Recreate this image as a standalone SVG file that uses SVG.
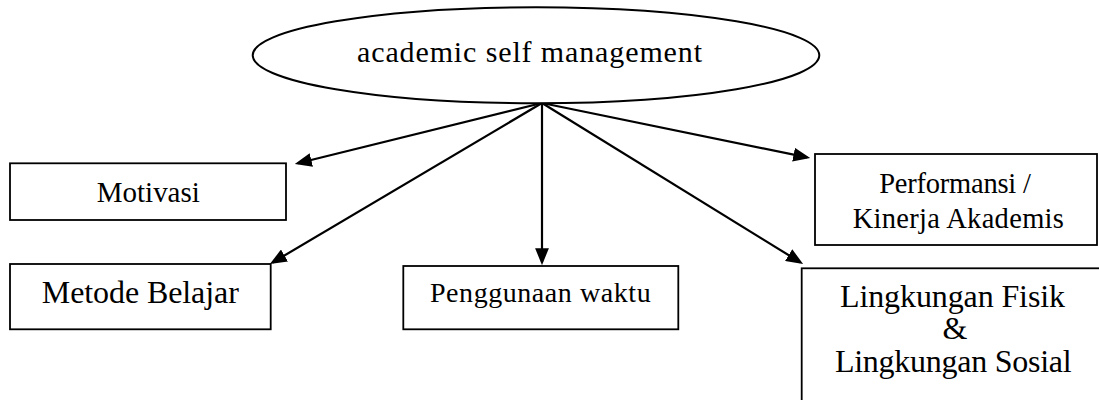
<svg xmlns="http://www.w3.org/2000/svg" width="1099" height="400" viewBox="0 0 1099 400">
<style>
  .box { fill: #ffffff; stroke: #000000; stroke-width: 1.8; }
  .t { font-family: "Liberation Serif", "Times New Roman", serif; fill: #000000; text-anchor: middle; }
  .c { stroke: #000000; stroke-width: 2.2; fill: none; marker-end: url(#ah); }
</style>
<defs>
  <marker id="ah" markerUnits="userSpaceOnUse" markerWidth="17" markerHeight="14" viewBox="0 0 16 13" refX="13" refY="6.5" orient="auto">
    <path d="M0,0 L16,6.5 L0,13 Z" fill="#000000"/>
  </marker>
</defs>
<rect width="1099" height="400" fill="#ffffff"/>

<g id="connectors">
  <line class="c" x1="542" y1="103" x2="297.9" y2="163.3"/>
  <line class="c" x1="542" y1="103" x2="272.6" y2="262.5"/>
  <line class="c" x1="542" y1="103" x2="542" y2="262"/>
  <line class="c" x1="542" y1="103" x2="807.1" y2="157.4"/>
  <line class="c" x1="542" y1="103" x2="800.4" y2="262.4"/>
</g>

<g id="root">
  <ellipse cx="536" cy="55.3" rx="283.3" ry="48" fill="#ffffff" stroke="#000000" stroke-width="2"/>
  <text class="t" x="529.5" y="62" font-size="30" textLength="345" lengthAdjust="spacing">academic self management</text>
</g>

<g id="motivasi">
  <rect class="box" x="10" y="163.3" width="276" height="56.7"/>
  <text class="t" x="148.3" y="201.7" font-size="29" textLength="103" lengthAdjust="spacing">Motivasi</text>
</g>

<g id="metode-belajar">
  <rect class="box" x="10" y="264" width="260.7" height="65.3"/>
  <text class="t" x="140.3" y="303" font-size="32" textLength="197" lengthAdjust="spacing">Metode Belajar</text>
</g>

<g id="penggunaan-waktu">
  <rect class="box" x="403.3" y="266" width="275" height="63.3"/>
  <text class="t" x="540.3" y="301.7" font-size="28" textLength="220.7" lengthAdjust="spacing">Penggunaan waktu</text>
</g>

<g id="performansi">
  <rect class="box" x="815" y="154" width="282" height="91"/>
  <text class="t" x="955" y="193" font-size="28.5" textLength="151.7" lengthAdjust="spacing">Performansi /</text>
  <text class="t" x="958.3" y="228.3" font-size="28.5" textLength="211.3" lengthAdjust="spacing">Kinerja Akademis</text>
</g>

<g id="lingkungan">
  <rect class="box" x="801.7" y="268.3" width="302" height="140"/>
  <text class="t" x="952.5" y="306.7" font-size="32" textLength="225" lengthAdjust="spacing">Lingkungan Fisik</text>
  <text class="t" x="955" y="339.3" font-size="32">&amp;</text>
  <text class="t" x="953.3" y="371.7" font-size="32" textLength="236.7" lengthAdjust="spacing">Lingkungan Sosial</text>
</g>
</svg>
